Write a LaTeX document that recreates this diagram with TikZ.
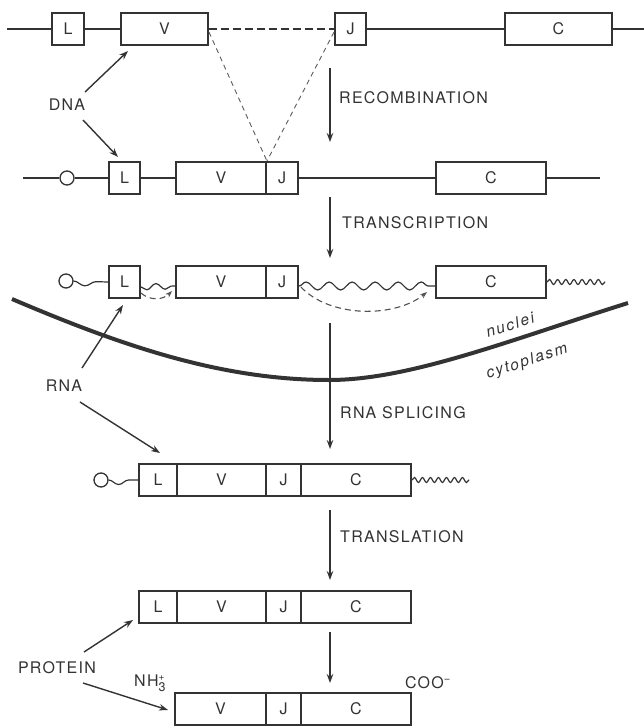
\documentclass[tikz,border=0pt]{standalone}
\usepackage{fontspec}
\setmainfont{TeX Gyre Heros}
\newfontfamily\labfamily[LetterSpace=8]{TeX Gyre Heros}
\newfontfamily\memfamily[LetterSpace=12]{TeX Gyre Heros}
\usetikzlibrary{arrows.meta,decorations.pathmorphing}
\definecolor{ink}{HTML}{333333}
\newcommand\labfont{\labfamily\fontsize{16}{18}\selectfont}
\newcommand\boxfont{\fontsize{16}{18}\selectfont}
\newcommand\memfont{\memfamily\itshape\fontsize{15.5}{18}\selectfont}
\begin{document}
\begin{tikzpicture}[x=1pt,y=-1pt,
  gbox/.style={draw=ink, line width=1.9pt, minimum height=32pt, inner sep=0pt, font=\boxfont, text=ink},
  backbone/.style={draw=ink, line width=1.9pt},
  capring/.style={circle, draw=ink, line width=1.3pt, minimum size=14pt, inner sep=0pt},
  arr/.style={draw=ink, line width=1.4pt, -{Stealth[length=9pt,width=6.5pt]}},
  darr/.style={draw=ink!85, line width=1.1pt, dash pattern=on 6pt off 4pt, -{Stealth[length=7pt,width=5pt]}},
  thindash/.style={draw=ink!80, line width=0.9pt, dash pattern=on 5pt off 4pt},
  lab/.style={font=\labfont, text=ink, inner sep=0pt},
  memlab/.style={font=\memfont, text=ink, inner sep=0pt, rotate=18},
  wav/.style={draw=ink, line width=1.2pt, decorate},
  membrane/.style={draw=ink, line width=4pt}]
\useasboundingbox (0,0) rectangle (644,726);
% ---------- row 1: germline DNA
\node[gbox, minimum width=32pt] (aL) at (68,29) {L};
\node[gbox, minimum width=87pt] (aV) at (164.5,29) {V};
\node[gbox, minimum width=31pt] (aJ) at (350.5,29) {J};
\node[gbox, minimum width=107pt] (aC) at (558.5,29) {C};
\coordinate (a0) at (7,29);
\coordinate (a1) at (644,29);
\draw[backbone] (a0) -- (aL.west) (aL.east) -- (aV.west) (aJ.east) -- (aC.west) (aC.east) -- (a1);
\draw[backbone, dash pattern=on 8pt off 4pt] (aV.east) -- (aJ.west);
% ---------- row 2: rearranged DNA
\node[capring] (bO) at (67,178) {};
\node[gbox, minimum width=31pt] (bL) at (124.5,178) {L};
\node[gbox, minimum width=90pt] (bV) at (221,178) {V};
\node[gbox, minimum width=32pt] (bJ) at (282,178) {J};
\node[gbox, minimum width=110pt] (bC) at (491,178) {C};
\coordinate (b0) at (23,178);
\coordinate (b1) at (600,178);
\draw[backbone] (b0) -- (bO.west) (bO.east) -- (bL.west) (bL.east) -- (bV.west) (bJ.east) -- (bC.west) (bC.east) -- (b1);
\draw[thindash] ([yshift=-3pt]aV.east) -- (bV.north east);
\draw[thindash] ([yshift=-3pt]aJ.west) -- (bV.north east);
% ---------- row 3: primary RNA
\node[capring] (cO) at (66,281) {};
\node[gbox, minimum width=31pt] (cL) at (124.5,282) {L};
\node[gbox, minimum width=90pt] (cV) at (221,282) {V};
\node[gbox, minimum width=32pt] (cJ) at (282,282) {J};
\node[gbox, minimum width=110pt] (cC) at (491,282) {C};
\coordinate (c1) at (605,282);
\draw[wav, decoration={snake, amplitude=4.5pt, segment length=36pt, mirror}] (cO.east) -- (cL.west);
\draw[wav, decoration={snake, amplitude=3pt, segment length=18.5pt, mirror}] ([yshift=-5pt]cL.east) -- ([yshift=-4pt]cV.west);
\draw[wav, decoration={snake, amplitude=4pt, segment length=23pt}] ([yshift=-4pt]cJ.east) -- ([yshift=-4pt]cC.west);
\draw[wav, decoration={snake, amplitude=2.5pt, segment length=8.14pt}] (cC.east) -- (c1);
\draw[darr] ([yshift=-11pt]cL.east) .. controls (150,301) and (163,300) .. ([xshift=-3pt,yshift=-9pt]cV.west);
\draw[darr] ([xshift=2pt,yshift=-5pt]cJ.east) .. controls (330,318) and (395,318) .. ([xshift=-8pt,yshift=-10pt]cC.west);
% ---------- membrane
\coordinate (m0) at (12,299);
\coordinate (m1) at (329,380);
\coordinate (m2) at (628,303);
\draw[membrane] (m0) .. controls (120,345) and (220,380) .. (m1) .. controls (410,380) and (510,340) .. (m2);
\node[memlab] (nuc) at (510,325) {nuclei};
\node[memlab] (cyt) at (527,362) {cytoplasm};
% ---------- row 4: mRNA
\node[capring] (dO) at (101,480) {};
\node[gbox, minimum width=38pt] (dL) at (158,480) {L};
\node[gbox, minimum width=89pt] (dV) at (221.5,480) {V};
\node[gbox, minimum width=35pt] (dJ) at (283.5,480) {J};
\node[gbox, minimum width=110pt] (dC) at (356,480) {C};
\coordinate (d1) at (469,480);
\draw[wav, decoration={snake, amplitude=4.5pt, segment length=32pt, mirror}] (dO.east) -- (dL.west);
\draw[wav, decoration={snake, amplitude=2.5pt, segment length=8pt}] (dC.east) -- (d1);
% ---------- row 5: protein with leader
\node[gbox, minimum width=38pt] (eL) at (158,607) {L};
\node[gbox, minimum width=89pt] (eV) at (221.5,607) {V};
\node[gbox, minimum width=35pt] (eJ) at (283.5,607) {J};
\node[gbox, minimum width=110pt] (eC) at (356,607) {C};
% ---------- row 6: mature protein
\node[gbox, minimum width=91pt] (fV) at (220.5,709) {V};
\node[gbox, minimum width=35pt] (fJ) at (283.5,709) {J};
\node[gbox, minimum width=110pt] (fC) at (356,709) {C};
\node[lab, anchor=west] (nh) at (134,683) {NH\rlap{\raisebox{6pt}{\fontsize{10}{10}\selectfont +}}\raisebox{-5pt}{\fontsize{12.5}{12}\selectfont 3}};
\node[lab] (coo) at (428,683) {COO\textsuperscript{\char"2212}};
% ---------- process arrows
\coordinate (s1a) at (330,68);  \coordinate (s1b) at (330,142);
\coordinate (s2a) at (330,197); \coordinate (s2b) at (330,258);
\coordinate (s3a) at (330,323); \coordinate (s3b) at (330,449);
\coordinate (s4a) at (330,510); \coordinate (s4b) at (330,580);
\coordinate (s5a) at (330,632); \coordinate (s5b) at (330,683);
\draw[arr] (s1a) -- (s1b);
\draw[arr] (s2a) -- (s2b);
\draw[arr] (s3a) -- (s3b);
\draw[arr] (s4a) -- (s4b);
\draw[arr] (s5a) -- (s5b);
\node[lab, anchor=west] (t1) at (339,98) {RECOMBINATION};
\node[lab, anchor=west] (t2) at (342,223) {TRANSCRIPTION};
\node[lab, anchor=west] (t3) at (340,413) {RNA SPLICING};
\node[lab, anchor=west] (t4) at (340,537) {TRANSLATION};
% ---------- side labels
\node[lab] (dna) at (67,105) {DNA};
\node[lab] (rna) at (64,386) {RNA};
\node[lab] (prot) at (57,668) {PROTEIN};
\coordinate (p1) at (85,92);   \coordinate (q1) at (128,51);
\coordinate (p2) at (83,120);  \coordinate (q2) at (118,157);
\coordinate (p3) at (82,368);  \coordinate (q3) at (123,305);
\coordinate (p4) at (80,402);  \coordinate (q4) at (160,453);
\coordinate (p5) at (84,652);  \coordinate (q5) at (133,620);
\coordinate (p6) at (83,683);  \coordinate (q6) at (168,710);
\draw[arr] (p1) -- (q1);
\draw[arr] (p2) -- (q2);
\draw[arr] (p3) -- (q3);
\draw[arr] (p4) -- (q4);
\draw[arr] (p5) -- (q5);
\draw[arr] (p6) -- (q6);
\end{tikzpicture}
\end{document}
